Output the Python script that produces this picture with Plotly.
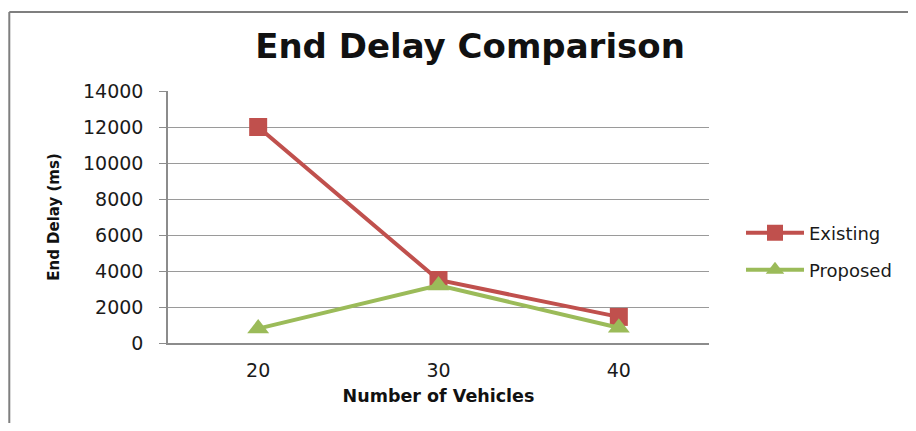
import plotly.graph_objects as go

categories = ["20", "30", "40"]
existing = [12000, 3500, 1450]
proposed = [800, 3200, 850]
y_ticks = [0, 2000, 4000, 6000, 8000, 10000, 12000, 14000]
y_tick_labels = ["0", "2000", "4000", "6000", "8000", "10000", "12000", "14000"]

RED = "#C0504D"
GREEN = "#9BBB59"
FONT = "DejaVu Sans"

fig = go.Figure()
fig.add_trace(go.Scatter(
    x=categories, y=existing, name="Existing", mode="lines+markers",
    line=dict(color=RED, width=4),
    marker=dict(symbol="square", size=18, color=RED),
    legend="legend",
))
fig.add_trace(go.Scatter(
    x=categories, y=proposed, name="Proposed", mode="lines+markers",
    line=dict(color=GREEN, width=4),
    marker=dict(symbol="triangle-up", size=19, color=GREEN),
    legend="legend2",
))

# page body adds an 8px offset; work in reference pixel coords and shift
OFF = 8
W, H = 916 - 2 * OFF, 431 - 2 * OFF
L, R, T, B = 168 - OFF, 710 - OFF, 91 - OFF, 343 - OFF
pw, ph = R - L, B - T

def px(x):
    return (x - OFF - L) / pw

def py(y):
    return (B - (y - OFF)) / ph

legend_common = dict(
    font=dict(family=FONT, size=18, color="#1a1a1a"),
    xanchor="left", yanchor="middle", bgcolor="rgba(0,0,0,0)",
    itemwidth=58, borderwidth=0,
)

fig.update_layout(
    width=W, height=H,
    margin=dict(l=L, r=W - R, t=T, b=H - B),
    paper_bgcolor="white", plot_bgcolor="white",
    font=dict(family=FONT, color="#1a1a1a"),
    title=dict(text="<b>End Delay Comparison</b>", x=(470 - OFF) / W, xanchor="center",
               y=1 - (46 - OFF) / H, yanchor="middle", font=dict(size=34, family=FONT, color="#111")),
    showlegend=True,
    legend=dict(x=px(741), y=py(233), **legend_common),
    legend2=dict(x=px(741), y=py(270), **legend_common),
    xaxis=dict(
        type="category", range=[-0.5, 2.5],
        showline=True, linecolor="#8c8c8c", linewidth=1.5,
        showgrid=False, ticks="", ticklabelstandoff=9,
        tickfont=dict(size=19, family=FONT, color="#1a1a1a"),
        title=dict(text="<b>Number of Vehicles</b>", standoff=10,
                   font=dict(size=17.5, family=FONT, color="#111")),
    ),
    yaxis=dict(
        range=[0, 14000], tickvals=y_ticks, ticktext=y_tick_labels,
        showline=True, linecolor="#8c8c8c", linewidth=1.5,
        showgrid=True, gridcolor="#9a9a9a", gridwidth=1.2,
        ticks="outside", ticklen=7, tickcolor="#8c8c8c",
        ticklabelstandoff=12, zeroline=False,
        tickfont=dict(size=19, family=FONT, color="#1a1a1a"),
        title=dict(text="<b>End Delay (ms)</b>", standoff=20,
                   font=dict(size=15, family=FONT, color="#111")),
    ),
    shapes=[
        dict(type="line", xref="paper", yref="paper", x0=px(9), x1=px(930), y0=py(12), y1=py(12),
             line=dict(color="#7f7f7f", width=2)),
        dict(type="line", xref="paper", yref="paper", x0=px(9), x1=px(9), y0=py(12), y1=py(440),
             line=dict(color="#7f7f7f", width=2)),
    ],
)

fig.write_html("out.html")
